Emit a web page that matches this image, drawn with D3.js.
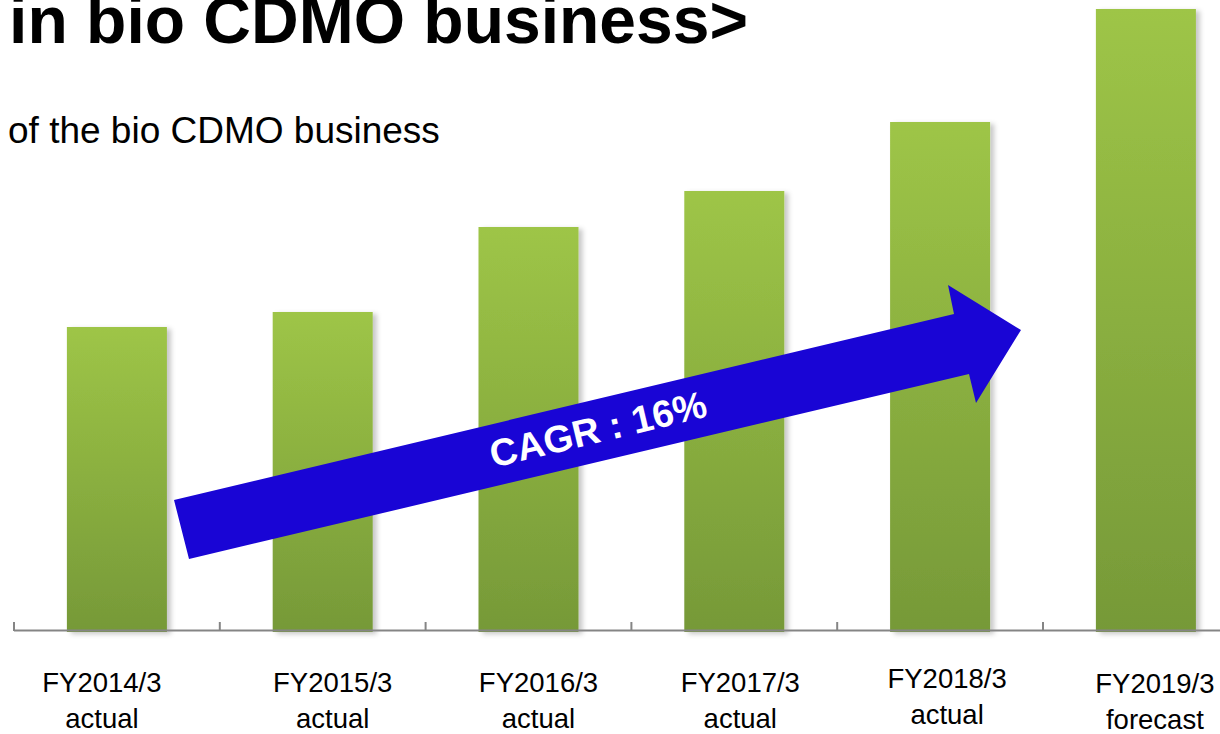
<!DOCTYPE html>
<html>
<head>
<meta charset="utf-8">
<script src="https://cdn.jsdelivr.net/npm/d3@7"></script>
<style>
  html, body { margin: 0; padding: 0; background: #fff; }
  svg { display: block; font-family: "Liberation Sans", Arial, sans-serif; }
</style>
</head>
<body>
<div id="chart-container"></div>
<script>
// data (no y axis, so units are relative)
const periods = ["FY2014/3", "FY2015/3", "FY2016/3", "FY2017/3", "FY2018/3", "FY2019/3"];
const kinds = ["actual", "actual", "actual", "actual", "actual", "forecast"];
const sales = [30.5, 32.0, 40.5, 44.1, 51.0, 62.3];
const cagrLabel = "CAGR : 16%";

// dimensions
const width = 1220;
const height = 734;
const baseY = 632;

// label boxes on the slide are not exactly centred under the bars
const labelShiftX = [-15, 10, 10, 6, 7, 9];
const labelShiftY = [0, 0, 0, 0, -4, 1];

const svg = d3
  .select("#chart-container")
  .append("svg")
  .attr("width", width)
  .attr("height", height)
  .attr("viewBox", [0, 0, width, height]);

const defs = svg.append("defs");

const grad = defs
  .append("linearGradient")
  .attr("id", "bar-grad")
  .attr("x1", 0).attr("y1", 0).attr("x2", 0).attr("y2", 1);
grad.append("stop").attr("offset", "0%").attr("stop-color", "#9ec547");
grad.append("stop").attr("offset", "100%").attr("stop-color", "#769938");

const shadow = defs
  .append("filter")
  .attr("id", "bar-shadow")
  .attr("x", "-10%").attr("y", "-5%").attr("width", "130%").attr("height", "110%");
shadow
  .append("feDropShadow")
  .attr("dx", 4).attr("dy", 2)
  .attr("stdDeviation", 2.5)
  .attr("flood-color", "#000")
  .attr("flood-opacity", 0.22);

// scales
const x = d3
  .scaleBand()
  .domain(periods)
  .range([14, 14 + 6 * 205.8])
  .paddingInner(0.514)
  .paddingOuter(0.257);

const y = d3
  .scaleLinear()
  .domain([0, d3.max(sales)])
  .range([baseY, 9]);

// title + subtitle (slide is cropped on the left and top)
svg
  .append("text")
  .attr("x", 748)
  .attr("y", 43)
  .attr("text-anchor", "end")
  .attr("font-size", 66)
  .attr("font-weight", "bold")
  .attr("fill", "#000")
  .text("n in bio CDMO business>");

svg
  .append("text")
  .attr("x", 8)
  .attr("y", 143)
  .attr("font-size", 37)
  .attr("fill", "#000")
  .text("of the bio CDMO business");

// bars
svg
  .append("g")
  .attr("class", "bars")
  .selectAll("rect")
  .data(sales)
  .join("rect")
  .attr("x", (d, i) => x(periods[i]))
  .attr("y", (d) => y(d))
  .attr("width", x.bandwidth())
  .attr("height", (d) => baseY - y(d))
  .attr("fill", "url(#bar-grad)")
  .attr("filter", "url(#bar-shadow)");

// baseline with small ticks between categories
const axisG = svg.append("g").attr("class", "axis").attr("stroke", "#858585").attr("stroke-width", 2);
axisG
  .append("line")
  .attr("x1", 14).attr("x2", width)
  .attr("y1", 630.5).attr("y2", 630.5);
axisG
  .selectAll("line.tick")
  .data(periods)
  .join("line")
  .attr("class", "tick")
  .attr("x1", (d) => x(d) - x.step() * x.paddingOuter())
  .attr("x2", (d) => x(d) - x.step() * x.paddingOuter())
  .attr("y1", 622)
  .attr("y2", 631);

// category labels
const labels = svg
  .append("g")
  .attr("class", "labels")
  .attr("text-anchor", "middle")
  .attr("font-size", 27.5)
  .attr("fill", "#000")
  .selectAll("text")
  .data(periods)
  .join("text")
  .attr("x", (d, i) => x(d) + x.bandwidth() / 2 + labelShiftX[i])
  .attr("y", (d, i) => 692 + labelShiftY[i]);
labels.append("tspan").text((d) => d);
labels
  .append("tspan")
  .attr("x", (d, i) => x(d) + x.bandwidth() / 2 + labelShiftX[i])
  .attr("dy", 36)
  .text((d, i) => kinds[i]);

// growth arrow
const arrow = [
  [174, 500], [954, 314], [948, 285], [1021, 330],
  [976, 403], [969, 374], [189, 559]
];
svg
  .append("path")
  .attr("d", d3.line()(arrow) + "Z")
  .attr("fill", "#1905d5");

svg
  .append("text")
  .attr("transform", "translate(598,429) rotate(-13.4)")
  .attr("text-anchor", "middle")
  .attr("dy", "0.35em")
  .attr("font-size", 38)
  .attr("font-weight", "bold")
  .attr("fill", "#fff")
  .text(cagrLabel);
</script>
</body>
</html>
